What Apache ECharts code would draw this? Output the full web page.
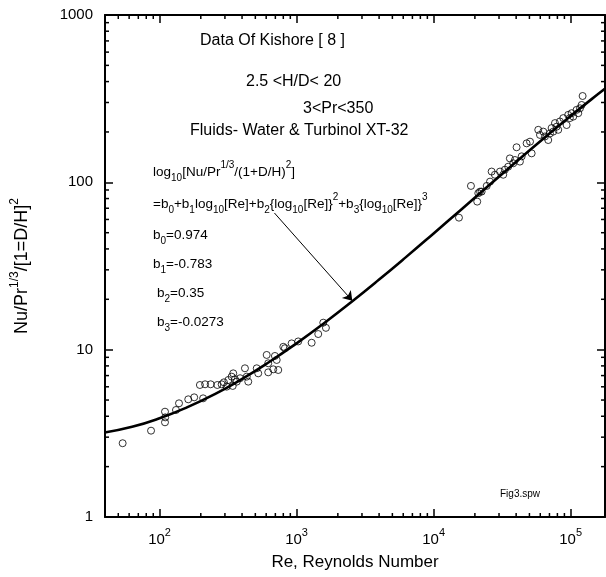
<!DOCTYPE html>
<html><head><meta charset="utf-8">
<script src="https://cdn.jsdelivr.net/npm/echarts@6/dist/echarts.min.js"></script>
<style>html,body{margin:0;padding:0;background:#fff}#c{width:606px;height:577px}</style>
</head><body><div id="c"></div>
<script>
// ---- axis ranges / ticks ----
const xRange = [40, 178000];
const yRange = [1, 1000];
const minorMultipliers = [2, 3, 4, 5, 6, 7, 8, 9];
const xDecades = [10, 100, 1000, 10000, 100000];
const yDecades = [1, 10, 100];

// ---- correlation curve ----
const curveRe = [39.8, 63.1, 100, 158.5, 251.2, 398.1, 631, 1000, 1585, 2512, 3981, 6310, 10000, 15849, 25119, 39811, 63096, 100000, 158489, 199526];
const curveNu = [3.20, 3.46, 3.89, 4.52, 5.41, 6.67, 8.44, 10.91, 14.38, 19.27, 26.15, 35.85, 49.53, 68.67, 95.35, 132.1, 182.2, 249.2, 337.1, 390.2];

const dataRe = [53.8, 86.7, 109.6, 110, 109.6, 131.8, 138.7, 162, 179, 208, 197, 215, 236, 264, 284, 295, 318, 336, 345, 355, 309, 342, 366, 387, 420, 444, 433, 512, 525, 605, 621, 621, 676, 716, 735, 695, 800, 822, 920, 1028, 1288, 1439, 1637, 1566,
  15300, 18720, 20800, 21180, 21800, 22400, 24400, 25800, 26500, 28000, 30500, 32200, 33100, 35000, 36000, 38100, 39200, 42600, 43900, 40300, 47700, 50500, 51900, 58000, 59700, 63100, 64900, 68600, 70600, 72600, 74600, 78900, 81100, 76800, 83400, 88300, 93400, 95900, 98600, 101600, 104400, 110400, 113600, 116900, 122200, 120200];
const dataNu = [2.76, 3.28, 4.26, 3.94, 3.68, 4.36, 4.78, 5.05, 5.19, 5.12, 6.15, 6.21, 6.21, 6.15, 6.21, 6.38, 6.59, 6.90, 7.22, 6.65, 6.01, 6.07, 6.44, 6.75, 7.74, 6.44, 6.90, 7.74, 7.22, 9.30, 8.29, 7.32, 7.63, 8.68, 7.56, 9.17, 10.4, 10.2, 10.9, 11.2, 11.0, 12.4, 13.5, 14.5,
  61.5, 95.2, 76.7, 86.1, 88.0, 88.0, 95.2, 101, 116, 111, 116, 111, 119, 124, 139, 130, 136, 133, 143, 162, 171, 175, 149, 206, 192, 201, 188, 179, 196, 211, 201, 215, 206, 226, 231, 242, 220, 253, 242, 259, 247, 271, 259, 277, 328, 290];

// ---- arrow (data coords) ----
const arrowFrom = [689, 65.6];
const arrowTo = [2550, 19.6];

// ---- texts ----
const xTitle = 'Re, Reynolds Number';
const headerLines = ['Data Of Kishore [ 8 ]', '2.5 <H/D< 20', '3<Pr<350', 'Fluids- Water & Turbinol XT-32'];
const formulaLines = [
  'log{sub|10}[Nu/Pr{sup|1/3}/(1+D/H){sup|2}]',
  '=b{sub|0}+b{sub|1}log{sub|10}[Re]+b{sub|2}{log{sub|10}[Re]}{sup|2}+b{sub|3}{log{sub|10}[Re]}{sup|3}',
  'b{sub|0}=0.974',
  'b{sub|1}=-0.783',
  'b{sub|2}=0.35',
  'b{sub|3}=-0.0273'
];
const figTag = 'Fig3.spw';

const FF = '"Liberation Sans", Arial, sans-serif';
const xMinor = [];
xDecades.forEach(d => minorMultipliers.forEach(m => { const v = d * m; if (v > xRange[0] && v < xRange[1]) xMinor.push([v, 1]); }));
const yMinor = [];
yDecades.forEach(d => minorMultipliers.forEach(m => { const v = d * m; if (v > yRange[0] && v < yRange[1]) yMinor.push([xRange[0], v]); }));

const chart = echarts.init(document.getElementById('c'), null, {renderer: 'canvas'});

const axisLine = {show: true, lineStyle: {color: '#000', width: 2}};
const axisTick = {show: true, inside: true, length: 8, lineStyle: {color: '#000', width: 1.5}};

function richText(t, left, cy, size) {
  const lh = Math.round(size * 1.7);
  const ss = Math.round(size * 0.76);
  return {
    type: 'text', left: left, top: cy - lh / 2, z: 10,
    style: {
      text: t, fill: '#000', font: size + 'px ' + FF, lineHeight: lh,
      rich: {
        sub: {font: ss + 'px ' + FF, verticalAlign: 'bottom', lineHeight: ss + 4},
        sup: {font: ss + 'px ' + FF, verticalAlign: 'top', lineHeight: ss + 2}
      }
    }
  };
}
function plainText(t, left, cy, size) {
  return {type: 'text', left: left, top: cy - size * 0.6, z: 10,
    style: {text: t, fill: '#000', font: size + 'px ' + FF}};
}
function minorRender(isX) {
  return function (params, api) {
    const v = isX ? api.value(0) : api.value(1);
    let a, b;
    if (isX) { a = api.coord([v, yRange[0]]); b = api.coord([v, yRange[1]]); }
    else { a = api.coord([xRange[0], v]); b = api.coord([xRange[1], v]); }
    const st = {stroke: '#000', lineWidth: 1.5};
    const L = 4;
    return {type: 'group', children: isX ? [
      {type: 'line', shape: {x1: a[0], y1: a[1], x2: a[0], y2: a[1] - L}, style: st},
      {type: 'line', shape: {x1: b[0], y1: b[1], x2: b[0], y2: b[1] + L}, style: st}
    ] : [
      {type: 'line', shape: {x1: a[0], y1: a[1], x2: a[0] + L, y2: a[1]}, style: st},
      {type: 'line', shape: {x1: b[0], y1: b[1], x2: b[0] - L, y2: b[1]}, style: st}
    ]};
  };
}

const formulaY = [172, 204, 235, 264, 293, 322];
const formulaX = [153, 153, 153, 153, 157, 157];

const graphics = [
  plainText(headerLines[0], 200, 42, 16),
  plainText(headerLines[1], 246, 83, 16),
  plainText(headerLines[2], 303, 110, 16),
  plainText(headerLines[3], 190, 132, 16),
  plainText(figTag, 500, 495, 10)
];
formulaLines.forEach((t, i) => {
  graphics.push(richText(t, formulaX[i], formulaY[i], 13.5));
});

chart.setOption({
  animation: false,
  backgroundColor: '#fff',
  grid: {left: 105, right: 1, top: 15, bottom: 60, containLabel: false, outerBoundsMode: 'none'},
  xAxis: [{
    type: 'log', logBase: 10, min: xRange[0], max: xRange[1], position: 'bottom',
    axisLine: axisLine, axisTick: axisTick, splitLine: {show: false},
    axisLabel: {
      show: true, margin: 10, showMinLabel: false, showMaxLabel: false,
      formatter: v => '{b|10}{s|' + Math.round(Math.log10(v)) + '}',
      rich: {
        b: {fontSize: 15, fontFamily: FF, color: '#000', lineHeight: 20, verticalAlign: 'bottom'},
        s: {fontSize: 11, fontFamily: FF, color: '#000', verticalAlign: 'top'}
      }
    },
    name: xTitle, nameLocation: 'middle', nameGap: 37,
    nameTextStyle: {fontSize: 17, fontFamily: FF, color: '#000'}
  }, {
    type: 'log', logBase: 10, min: xRange[0], max: xRange[1], position: 'top',
    axisLine: axisLine, axisTick: axisTick, splitLine: {show: false}, axisLabel: {show: false}
  }],
  yAxis: [{
    type: 'log', logBase: 10, min: yRange[0], max: yRange[1], position: 'left',
    axisLine: axisLine, axisTick: axisTick, splitLine: {show: false},
    axisLabel: {show: true, margin: 12, fontSize: 15, fontFamily: FF, color: '#000', formatter: v => String(Math.round(v))},
    name: '{n|Nu/Pr}{s|1/3}{n|/[1=D/H]}{s|2}', nameLocation: 'middle', nameGap: 70, nameRotate: 90,
    nameTextStyle: {
      fontSize: 18, fontFamily: FF, color: '#000',
      rich: {
        n: {fontSize: 18, fontFamily: FF, color: '#000', lineHeight: 26},
        s: {fontSize: 12, fontFamily: FF, color: '#000', verticalAlign: 'top'}
      }
    }
  }, {
    type: 'log', logBase: 10, min: yRange[0], max: yRange[1], position: 'right',
    axisLine: axisLine, axisTick: axisTick, splitLine: {show: false}, axisLabel: {show: false}
  }],
  graphic: graphics,
  series: [
    {
      type: 'line', xAxisIndex: 0, yAxisIndex: 0,
      data: curveRe.map((x, i) => [x, curveNu[i]]),
      showSymbol: false, symbol: 'none', smooth: true, clip: true,
      lineStyle: {color: '#000', width: 2.6}, z: 3,
      markLine: {
        silent: true, symbol: ['none', 'arrow'], symbolSize: 9,
        lineStyle: {color: '#000', width: 1, type: 'solid'},
        label: {show: false},
        data: [[{coord: arrowFrom}, {coord: arrowTo}]]
      }
    },
    {
      type: 'scatter', xAxisIndex: 0, yAxisIndex: 0,
      data: dataRe.map((x, i) => [x, dataNu[i]]),
      symbol: 'circle', symbolSize: 7,
      itemStyle: {color: 'rgba(0,0,0,0)', borderColor: '#000', borderWidth: 1}, z: 4
    },
    {type: 'custom', xAxisIndex: 0, yAxisIndex: 0, data: xMinor, renderItem: minorRender(true), silent: true, z: 5},
    {type: 'custom', xAxisIndex: 0, yAxisIndex: 0, data: yMinor, renderItem: minorRender(false), silent: true, z: 5}
  ]
});
</script>
</body></html>
